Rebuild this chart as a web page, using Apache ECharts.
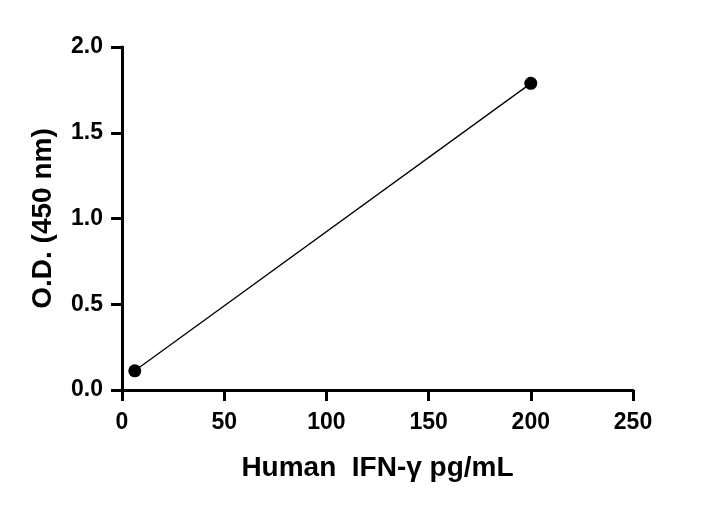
<!DOCTYPE html>
<html><head><meta charset="utf-8">
<script src="https://cdn.jsdelivr.net/npm/echarts@6/dist/echarts.min.js"></script>
<style>html,body{margin:0;padding:0;background:#fff}#c{width:715px;height:507px}</style>
</head><body><div id="c"></div>
<script>
const xValues = [6.25, 200];
const odValues = [0.112, 1.788];
const xTicks = [0, 50, 100, 150, 200, 250];
const yTicks = [0.0, 0.5, 1.0, 1.5, 2.0];

const FONT = '"Liberation Sans", Arial, sans-serif';
const chart = echarts.init(document.getElementById('c'), null, {renderer: 'canvas'});
const axisCommon = {
  axisLine: {show: true, onZero: false, lineStyle: {color: '#000', width: 3}},
  axisTick: {show: true, inside: false, length: 11, lineStyle: {color: '#000', width: 3}},
  splitLine: {show: false},
  nameLocation: 'middle',
  nameTextStyle: {color: '#000', fontFamily: FONT, fontWeight: 'bold', fontSize: 28}
};
chart.setOption({
  animation: false,
  backgroundColor: '#fff',
  grid: {left: 122, right: 82, top: 47, bottom: 117, containLabel: false},
  xAxis: Object.assign({}, axisCommon, {
    type: 'value', min: xTicks[0], max: xTicks[xTicks.length - 1], interval: 50,
    name: 'Human  IFN-γ pg/mL', nameGap: 64,
    axisLabel: {color: '#000', fontFamily: FONT, fontWeight: 'bold', fontSize: 23, margin: 21,
      formatter: v => String(v)}
  }),
  yAxis: Object.assign({}, axisCommon, {
    type: 'value', min: yTicks[0], max: yTicks[yTicks.length - 1], interval: 0.5,
    name: 'O.D. (450 nm)', nameGap: 65, nameRotate: 90,
    axisLabel: {color: '#000', fontFamily: FONT, fontWeight: 'bold', fontSize: 23, margin: 19,
      formatter: v => v.toFixed(1)}
  }),
  series: [{
    type: 'line',
    data: xValues.map((x, i) => [x, odValues[i]]),
    symbol: 'circle', symbolSize: 13,
    itemStyle: {color: '#000'},
    lineStyle: {color: '#000', width: 1.3},
    clip: false
  }]
});
</script></body></html>
